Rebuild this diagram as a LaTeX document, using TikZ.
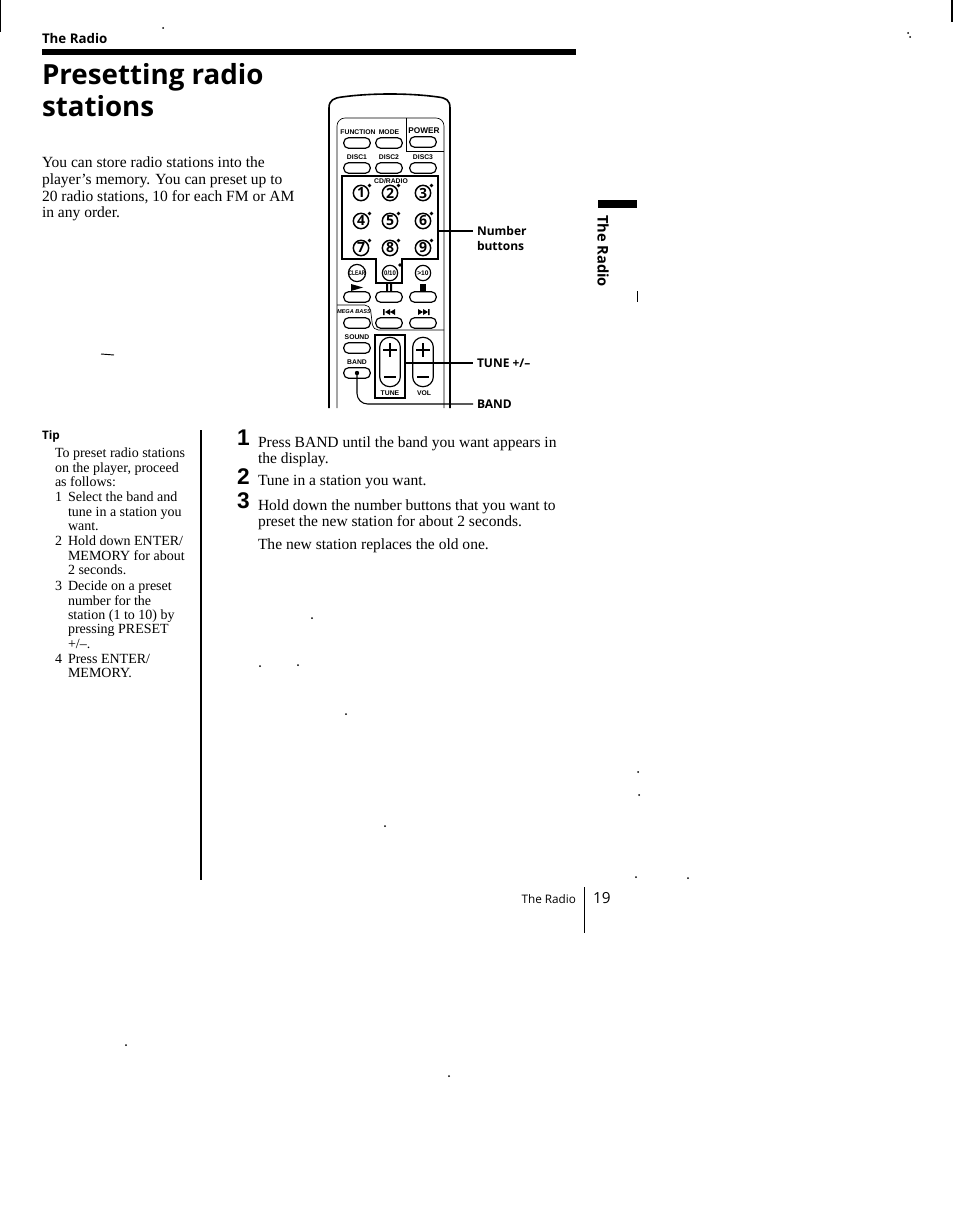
\documentclass[tikz,border=0pt]{standalone}
\usepackage{fontspec}
\setmainfont{Liberation Serif}
\setsansfont{Open Sans}
\newfontfamily\remotefont{Liberation Sans}
\usetikzlibrary{positioning,calc}
\begin{document}
\begin{tikzpicture}
	[x=.75pt,y=-.75pt,
	every node/.style={inner sep=0pt,outer sep=0pt},
	bodytext/.style={anchor=north west,align=left,font=\fontsize{11.65}{12.5}\selectfont},
	tiptext/.style={anchor=north west,align=left,font=\fontsize{10.5}{10.75}\selectfont},
	head/.style={anchor=west,font=\sffamily\bfseries\fontsize{10}{11}\selectfont},
	stepnum/.style={anchor=west,font=\remotefont\bfseries\fontsize{17}{17}\selectfont},
	callout/.style={anchor=west,font=\sffamily\bfseries\fontsize{9}{11}\selectfont},
	keylabel/.style={font=\remotefont\bfseries\fontsize{5.1}{6}\selectfont},
	btn/.style={draw,line width=.9pt,rectangle,rounded corners=3.8pt,minimum width=20pt,minimum height=8pt},
	numkey/.style={draw,line width=1.1pt,circle,minimum size=11.5pt,font=\sffamily\bfseries\fontsize{10.5}{11}\selectfont},
	smallkey/.style={draw,line width=.9pt,circle,minimum size=11.5pt,font=\remotefont\bfseries\fontsize{5}{5}\selectfont},
	pill/.style={draw,line width=.9pt,rectangle,rounded corners=7.5pt,minimum width=15.5pt,minimum height=37pt},
	frame/.style={line width=1.2pt},
	inner/.style={line width=.5pt}]
	\useasboundingbox (0,0) rectangle (954,1220);
	% page head
	\node[head] (chapter) at (42,39) {The Radio};
	\fill (42,49) rectangle (576,55);
	\node[anchor=west,font=\sffamily\bfseries\fontsize{20.8}{22}\selectfont] (title) at (42,77) {Presetting radio};
	\node[anchor=west,font=\sffamily\bfseries\fontsize{20.8}{22}\selectfont] (titleb) at (42,106) {stations};
	\node[bodytext] (intro) at (42,157) {You can store radio stations into the\\player's memory. You can preset up to\\20 radio stations, 10 for each FM or AM\\in any order.};
	% remote body
	\draw[frame] (329,408) -- (329,108) .. controls (329,100) and (334,98) .. (342,97) .. controls (370,93) and (410,93) .. (438,97) .. controls (446,98) and (450,100) .. (450,108) -- (450,408);
	\draw[inner,rounded corners=6] (337,408) -- (337,118) -- (444,118) -- (444,408);
	\draw[inner] (406,118) -- (406,151) -- (444,151);
	\draw[inner,rounded corners=4] (337,305) -- (370,305) -- (373,330) -- (444,330);
	\draw[line width=1.1pt] (342,259) -- (342,176) -- (438,176) -- (438,259) -- (402,259) -- (402,283) -- (376,283) -- (376,259) -- cycle;
	% keys
	\foreach \nm/\cx/\cy in {fn/357/143,mode/389/143,power/423/142,dsca/357/168,dscb/389/168,dscc/423/168,
		play/357/297,pause/389/297,stop/423/297,mega/357/323,prev/389/323,next/423/323,sound/357/348,bandbtn/357/373}
		\node[btn] (\nm) at (\cx,\cy) {};
	\foreach \nm/\cx/\cy/\txt in {lfn/358/132/FUNCTION,lmode/389/132/MODE,ldsca/357/157/DISC1,ldscb/389/157/DISC2,ldscc/423/157/DISC3,
		lcd/391/181/{CD/RADIO},lsound/357/337/SOUND,lband/357/362/BAND,ltune/390/393/TUNE,lvol/424/393/VOL}
		\node[keylabel] (\nm) at (\cx,\cy) {\txt};
	\node[keylabel,font=\remotefont\bfseries\fontsize{6.2}{7}\selectfont] (lpower) at (424,131) {POWER};
	\node[keylabel,font=\remotefont\bfseries\itshape\fontsize{4.2}{5}\selectfont] (lmega) at (354,312) {MEGA BASS};
	\foreach \nm/\cx/\cy in {1/361/193,2/390/193,3/423/193,4/361/221,5/390/221,6/423/221,7/361/248,8/390/248,9/423/248}{
		\node[numkey] (k\nm) at (\cx,\cy) {\nm};
		\fill (\cx+8.5,\cy-7.5) circle (1.8);
	}
	\node[smallkey] (clear) at (357,273) {\scalebox{.72}[1]{CLEAR}};
	\node[smallkey] (zero) at (390,273) {\scalebox{.9}[1]{0/10}};
	\node[smallkey] (more) at (423,273) {>10};
	\fill (400,265) circle (1.8);
	% transport marks
	\fill (351,284) -- (363,287.5) -- (351,291) -- cycle;
	\fill (386,284) rectangle (388,291) (390,284) rectangle (392,291);
	\fill (420,284) rectangle (426,291);
	\fill (383,309) rectangle (384.5,315) (385,312) -- (390,309) -- (390,315) -- cycle (390,312) -- (395,309) -- (395,315) -- cycle;
	\fill (418,309) -- (423,312) -- (418,315) -- cycle (423,309) -- (428,312) -- (423,315) -- cycle (428,309) rectangle (429.5,315);
	% tune and volume
	\node[draw,line width=1.1pt,minimum width=22.5pt,minimum height=47.5pt] (tunebox) at (390,366.5) {};
	\node[pill] (tune) at (390,362) {};
	\node[pill] (vol) at (423,362) {};
	\foreach \cx in {390,423}{
		\draw[line width=1pt] (\cx-7,350) -- (\cx+7,350) (\cx,343) -- (\cx,357);
		\draw[line width=1pt] (\cx-6,377) -- (\cx+6,377);
	}
	% callouts
	\coordinate (numfoot) at (438,231);
	\node[callout] (numword) at (477,231) {Number};
	\node[callout] (numwordb) at (477,246) {buttons};
	\node[callout] (tunelab) at (477,363) {TUNE +/–};
	\node[callout] (bandlab) at (477,404) {BAND};
	\draw[line width=.8pt] (numfoot) -- ([xshift=-3]numword.west);
	\draw[line width=.8pt] (tunebox.east |- tunelab) -- ([xshift=-3]tunelab.west);
	\fill (bandbtn.center) circle (2.2);
	\draw[line width=.8pt,rounded corners=8] (bandbtn.center) |- ([xshift=-3]bandlab.west);
	% tip column
	\node[anchor=west,font=\sffamily\bfseries\fontsize{8.8}{10}\selectfont] (tip) at (42,436) {Tip};
	\node[tiptext] (tipa) at (55,448) {To preset radio stations\\on the player, proceed\\as follows:};
	\foreach \nm/\cy/\idx/\txt in {tipb/492/1/{Select the band and\\tune in a station you\\want.},
		tipc/536/2/{Hold down ENTER/\\MEMORY for about\\2 seconds.},
		tipd/581/3/{Decide on a preset\\number for the\\station (1 to 10) by\\pressing PRESET\\+/–.},
		tipe/654/4/{Press ENTER/\\MEMORY.}}{
		\node[tiptext] (\nm) at (68,\cy) {\txt};
		\node[tiptext] (\nm n) at (55,\cy) {\idx};
	}
	\draw[line width=.8pt] (201,430) -- (201,880);
	% steps
	\node[stepnum] (stepa) at (237,438) {1};
	\node[stepnum] (stepb) at (237,477) {2};
	\node[stepnum] (stepc) at (237,501) {3};
	\node[bodytext] (texta) at (258,436.5) {Press BAND until the band you want appears in\\the display.};
	\node[bodytext] (textb) at (258,475.5) {Tune in a station you want.};
	\node[bodytext] (textc) at (258,499.5) {Hold down the number buttons that you want to\\preset the new station for about 2 seconds.};
	\node[bodytext] (textd) at (258,538.5) {The new station replaces the old one.};
	% thumb tab
	\fill (598,200) rectangle (637,208);
	\node[rotate=-90,font=\sffamily\bfseries\fontsize{11}{12}\selectfont] (tab) at (603,251) {The Radio};
	\draw[line width=.6pt] (637,291) -- (637,302);
	% folio
	\node[anchor=east,font=\sffamily\fontsize{8.8}{10}\selectfont] (foot) at (576,899) {The Radio};
	\node[anchor=west,font=\sffamily\fontsize{11.5}{13}\selectfont] (page) at (593,898) {19};
	\draw[line width=.7pt] (584,887) -- (584,933);
	% scan marks
	\draw[line width=1.5pt] (951.5,0) -- (951.5,22);
	\draw[line width=.8pt] (.5,0) -- (.5,32);
	\draw[line width=.7pt] (101,354) -- (114,355);
	\foreach \cx/\cy in {908/33,910/37,312/618,260/666,298/665,346/714,638/772,639/795,636/877,688/878,126/1045,449/1076,163/28,385/826}
		\fill (\cx,\cy) circle (1);
\end{tikzpicture}
\end{document}
